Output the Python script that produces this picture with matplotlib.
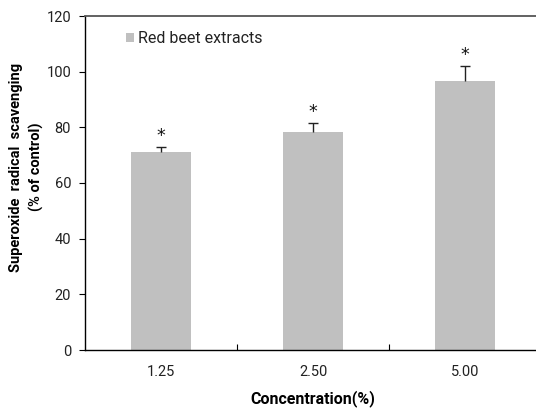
import matplotlib
matplotlib.use("Agg")
import matplotlib.pyplot as plt

categories = ["1.25", "2.50", "5.00"]
values = [71.0, 78.2, 96.6]
errors = [2.0, 3.2, 5.5]
legend_label = "Red beet extracts"
x_label = "Concentration(%)"
y_label = "Superoxide  radical  scavenging\n(% of control)"
y_ticks = [0, 20, 40, 60, 80, 100, 120]

plt.rcParams['font.family'] = ['Roboto', 'DejaVu Sans']

W, H = 536, 408
fig = plt.figure(figsize=(W / 100, H / 100), dpi=100)
left, right, top, bottom = 85, 541, 16, 350
ax = fig.add_axes([left / W, 1 - bottom / H, (right - left) / W, (bottom - top) / H])

xs = list(range(len(categories)))
tops = [v + e for v, e in zip(values, errors)]
ax.bar(xs, values, width=0.4, color="#C0C0C0", label=legend_label, zorder=2)
ax.errorbar(xs, values, yerr=[[0] * len(xs), errors], fmt="none", ecolor="#222222",
            elinewidth=1.0, capsize=0, zorder=3)
ax.plot(xs, tops, linestyle="none", marker="_", markersize=7, markeredgewidth=1.0,
        color="#222222", zorder=3)
for x, t in zip(xs, tops):
    ax.annotate("*", (x, t), xytext=(0, 1.5), textcoords="offset points",
                ha="center", va="bottom", fontsize=12.5, color="#111111",
                family="DejaVu Sans")

ax.set_xlim(-0.5, 2.5)
ax.set_ylim(0, 120)
ax.set_yticks(y_ticks)
ax.set_xticks(xs)
ax.set_xticklabels(categories)
ax.set_xticks([0.5, 1.5], minor=True)
ax.tick_params(axis="x", which="major", length=0, pad=11, labelsize=10.5, labelcolor="#222222")
ax.tick_params(axis="x", which="minor", direction="in", length=4, width=0.8)
ax.tick_params(axis="y", direction="out", length=4, width=0.8, pad=6, labelsize=10.5, labelcolor="#222222")

for s in ["left", "bottom"]:
    ax.spines[s].set_color("black")
    ax.spines[s].set_linewidth(1.0)
ax.spines["top"].set_color("#555555")
ax.spines["top"].set_linewidth(1.3)
ax.spines["right"].set_visible(False)

ax.set_xlabel(x_label, fontsize=11.5, fontweight="bold", labelpad=8)
ax.set_ylabel(y_label, fontsize=10.5, fontweight="bold", linespacing=1.5)
ax.yaxis.set_label_coords(-0.09, 0.548)

leg = ax.legend(loc="upper left", bbox_to_anchor=(0.075, 0.975), frameon=False,
                fontsize=11.5, handlelength=0.5, handleheight=0.5, handletextpad=0.3,
                borderaxespad=0, labelcolor="#222222")

fig.savefig("out.png", dpi=100)
